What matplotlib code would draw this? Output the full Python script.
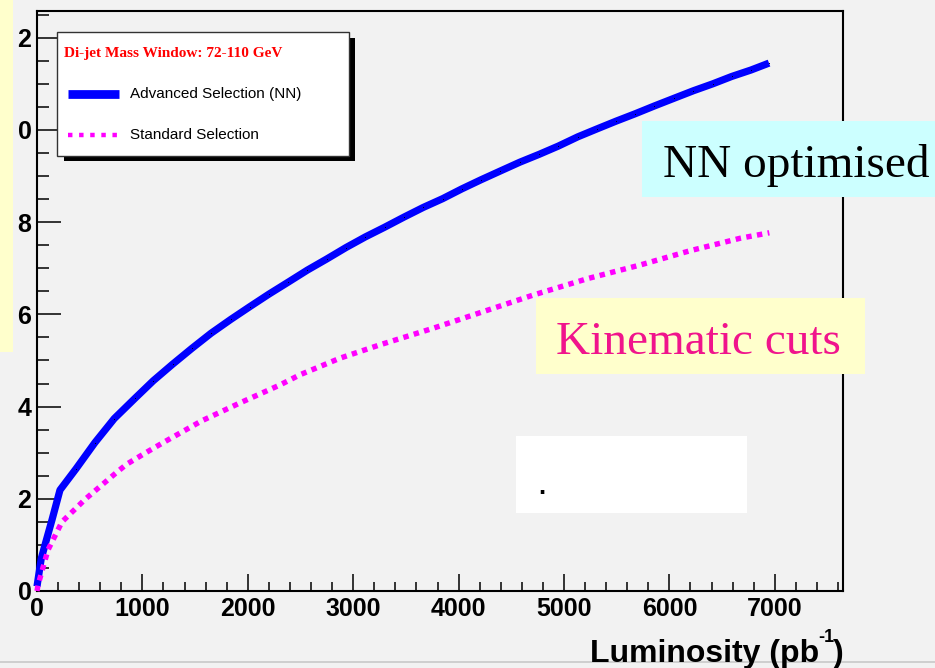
import numpy as np
import matplotlib as mpl
mpl.use('Agg')
import matplotlib.pyplot as plt
from matplotlib.patches import Rectangle
from matplotlib.lines import Line2D
from matplotlib.ticker import MultipleLocator, FixedLocator, FixedFormatter

# --- data ---
lumi_nn = [0, 40, 76, 142, 218, 370, 550, 733, 930, 1103, 1287, 1468, 1651, 1838,
           2021, 2201, 2384, 2565, 2748, 2932, 3115, 3298, 3482, 3665, 3849, 4029,
           4213, 4396, 4580, 4763, 4946, 5130, 5310, 5493, 5674, 5857, 6047, 6227,
           6411, 6591, 6774, 6945]
signif_nn = [0.1, 0.7, 1.0, 1.54, 2.19, 2.65, 3.22, 3.74, 4.18, 4.56, 4.92, 5.26, 5.59,
             5.89, 6.17, 6.44, 6.70, 6.96, 7.20, 7.45, 7.68, 7.89, 8.11, 8.32, 8.51,
             8.72, 8.92, 9.11, 9.30, 9.47, 9.65, 9.85, 10.02, 10.19, 10.35, 10.52,
             10.69, 10.85, 11.00, 11.16, 11.30, 11.45]

lumi_std = [0, 10, 104, 237, 457, 759, 851, 1025, 1198, 1562, 1926, 2306, 2495, 2875,
            3254, 3760, 4234, 4709, 5231, 5721, 6195, 6670, 6948]
signif_std = [0.0, 0.13, 0.89, 1.50, 1.99, 2.58, 2.75, 2.99, 3.22, 3.69, 4.08, 4.47,
              4.69, 5.05, 5.34, 5.70, 6.06, 6.42, 6.78, 7.07, 7.38, 7.65, 7.77]

y_ticks = [0, 2, 4, 6, 8, 10, 12]
y_ticklabels = ['0', '2', '4', '6', '8', '0', '2']   # leading digits hidden in the original
x_ticks = [0, 1000, 2000, 3000, 4000, 5000, 6000, 7000]

legend_title = 'Di-jet Mass Window: 72-110 GeV'
label_nn = 'Advanced Selection (NN)'
label_std = 'Standard Selection'

W, H = 935, 668
BG = '#f2f2f2'

def fx(x): return x / W
def fy(y): return 1 - y / H

plt.rcParams['font.family'] = ['Liberation Sans', 'DejaVu Sans']

fig = plt.figure(figsize=(W / 100, H / 100), dpi=100, facecolor=BG)
a = fig.add_axes([fx(37), fy(591), (843 - 37) / W, (591 - 11) / H])
a.set_facecolor(BG)

a.plot(lumi_nn, signif_nn, '-', color='#0000ff', linewidth=5.2, clip_on=False,
       solid_capstyle='butt', solid_joinstyle='round', marker='s', markersize=0.6,
       markerfacecolor='black', markeredgecolor='black', markeredgewidth=0,
       markevery=slice(5, None), zorder=3)
a.plot(lumi_std, signif_std, color='#ff00ff', linewidth=3.9, linestyle=(0, (1, 1.0)),
       dash_capstyle='butt', clip_on=False, zorder=3)

a.set_xlim(0, 7647)
a.set_ylim(0, 12.58)

a.xaxis.set_major_locator(FixedLocator(x_ticks))
a.xaxis.set_minor_locator(MultipleLocator(200))
a.yaxis.set_major_locator(FixedLocator(y_ticks))
a.yaxis.set_major_formatter(FixedFormatter(y_ticklabels))
a.yaxis.set_minor_locator(MultipleLocator(0.5))

a.tick_params(axis='x', which='major', direction='in', length=12.5, width=1.1,
              labelsize=18, pad=4)
a.tick_params(axis='x', which='minor', direction='in', length=6.2, width=1.1)
a.tick_params(axis='y', which='major', direction='in', length=17.3, width=1.1,
              labelsize=18, pad=4)
a.tick_params(axis='y', which='minor', direction='in', length=8.6, width=1.1)
for lab in a.get_xticklabels() + a.get_yticklabels():
    lab.set_fontweight('bold')
for s in a.spines.values():
    s.set_linewidth(1.5)
    s.set_color('black')

# bottom separator line
fig.add_artist(Line2D([0, 1], [fy(662), fy(662)], transform=fig.transFigure,
                      color='#c8c8c8', linewidth=1.2, zorder=0))

# axis title, built right to left so the superscript sits high like the original
r = fig.canvas.get_renderer()
t1 = fig.text(fx(844), fy(662), ')', ha='right', va='baseline', fontsize=23,
              fontweight='bold')
x1 = t1.get_window_extent(r).x0
t2 = fig.text(x1 / W + 0.001, fy(642), '-1', ha='right', va='baseline', fontsize=13,
              fontweight='bold')
x2 = t2.get_window_extent(r).x0
fig.text(x2 / W + 0.001, fy(662), 'Luminosity (pb', ha='right', va='baseline',
         fontsize=23, fontweight='bold')

# left yellow strip
fig.add_artist(Rectangle((0, fy(352)), fx(13), 352 / H, transform=fig.transFigure,
                         facecolor='#ffffcc', edgecolor='none', zorder=5))

# legend box with shadow
fig.add_artist(Rectangle((fx(64), fy(161)), (355 - 64) / W, (161 - 38) / H,
                         transform=fig.transFigure, facecolor='black',
                         edgecolor='none', zorder=5))
fig.add_artist(Rectangle((fx(57), fy(156)), (349 - 57) / W, (156 - 32) / H,
                         transform=fig.transFigure, facecolor='white',
                         edgecolor='#333333', linewidth=1.0, zorder=6))
fig.text(fx(64), fy(57), legend_title, ha='left', va='baseline', fontsize=11,
         fontweight='bold', color='#ff0000', family=['Liberation Serif'], zorder=7)
fig.add_artist(Line2D([fx(68), fx(119)], [fy(94), fy(94)], transform=fig.transFigure,
                      color='#0000ff', linewidth=6.3, solid_capstyle='butt', zorder=7))
fig.add_artist(Line2D([fx(68), fx(119)], [fy(135), fy(135)], transform=fig.transFigure,
                      color='#ff00ff', linewidth=3.2, linestyle=(0, (1, 1.5)),
                      dash_capstyle='butt', zorder=7))
fig.text(fx(130), fy(94), label_nn, ha='left', va='center', fontsize=11, zorder=7)
fig.text(fx(130), fy(135), label_std, ha='left', va='center', fontsize=11, zorder=7)

# annotation boxes
fig.add_artist(Rectangle((fx(642), fy(197)), (935 - 642) / W, (197 - 121) / H,
                         transform=fig.transFigure, facecolor='#ccffff',
                         edgecolor='none', zorder=5))
fig.text(fx(663), fy(177), 'NN optimised', ha='left', va='baseline', fontsize=34,
         family=['Liberation Serif'], color='black', zorder=6)

fig.add_artist(Rectangle((fx(536), fy(374)), (865 - 536) / W, (374 - 298) / H,
                         transform=fig.transFigure, facecolor='#ffffcc',
                         edgecolor='none', zorder=5))
fig.text(fx(556), fy(354), 'Kinematic cuts', ha='left', va='baseline', fontsize=34,
         family=['Liberation Serif'], color='#f0148c', zorder=6)

fig.add_artist(Rectangle((fx(516), fy(513)), (747 - 516) / W, (513 - 436) / H,
                         transform=fig.transFigure, facecolor='white',
                         edgecolor='none', zorder=5))
fig.text(fx(542), fy(494), '.', ha='center', va='baseline', fontsize=18,
         fontweight='bold', color='black', zorder=6)

fig.savefig('out.png', dpi=100, facecolor=BG)
